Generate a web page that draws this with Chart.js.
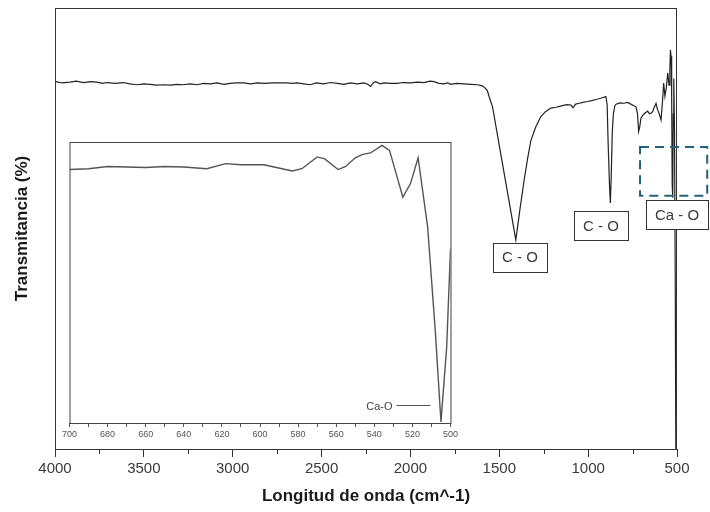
<!DOCTYPE html>
<html>
<head>
<meta charset="utf-8">
<script src="https://cdn.jsdelivr.net/npm/chart.js@4"></script>
<style>
  html, body { margin: 0; padding: 0; background: #fff; }
  #wrap { position: relative; width: 710px; height: 512px; }
  #mainChart { position: absolute; left: 0; top: 0; }
  #insetChart { position: absolute; left: 60px; top: 135px; }
</style>
</head>
<body>
<div id="wrap">
  <canvas id="mainChart" width="710" height="512"></canvas>
  <canvas id="insetChart" width="400" height="312"></canvas>
</div>
<script>
// espectro completo (cm^-1, % transmitancia)
const waveNumbers = [
  3995, 3960, 3915, 3880, 3840, 3800, 3765, 3730, 3709, 3660, 3615, 3580, 3540, 3500,
  3464, 3430, 3389, 3350, 3314, 3280, 3239, 3200, 3164, 3125, 3089, 3050, 3014, 2980,
  2939, 2900, 2860, 2820, 2780, 2740, 2700, 2660, 2638, 2600, 2563, 2530, 2488, 2450,
  2412, 2375, 2337, 2300, 2262, 2240, 2224, 2210, 2196, 2170, 2149, 2110, 2074, 2040,
  1999, 1960, 1924, 1890, 1868, 1840, 1811, 1790, 1773, 1740, 1698, 1660, 1623, 1600,
  1586, 1567, 1558, 1538, 1505, 1473, 1440, 1407, 1385, 1360, 1340, 1322, 1295, 1266,
  1240, 1210, 1180, 1150, 1120, 1097, 1085, 1070, 1050, 1030, 1003, 980, 950, 925,
  900, 893, 888, 880, 875, 870, 864, 858, 850, 843, 820, 800, 777, 760,
  731, 722, 716, 710, 703, 690, 680, 665, 655, 645, 637, 628, 618, 610,
  600, 590, 583, 575, 568, 560, 552, 545, 540, 537, 533, 530, 527, 524,
  521, 518, 514, 510, 505, 500
];
const transmittance = [
  83.3, 83.0, 83.2, 83.4, 83.1, 83.3, 83.2, 82.9, 83.1, 82.9, 83.1, 82.8, 82.6, 82.8,
  82.7, 82.5, 82.6, 82.5, 82.7, 82.6, 82.8, 82.6, 82.9, 82.8, 83.0, 82.7, 82.9, 83.0,
  83.0, 82.8, 83.0, 82.9, 83.0, 83.0, 83.0, 82.9, 83.0, 82.8, 82.6, 83.0, 82.8, 83.1,
  82.9, 82.7, 83.0, 82.8, 83.0, 82.7, 82.2, 83.0, 83.3, 82.8, 83.0, 82.9, 82.9, 83.1,
  83.0, 83.2, 83.1, 83.4, 83.3, 82.9, 82.8, 83.0, 82.7, 82.9, 82.8, 82.7, 82.6, 82.4,
  82.1, 81.3, 80.0, 77.6, 70.0, 62.6, 55.0, 47.4, 54.0, 61.0, 66.0, 70.0, 73.0, 75.4,
  76.5, 77.3, 77.5, 77.8, 78.1, 78.0, 77.4, 78.2, 78.4, 78.6, 78.8, 79.0, 79.3, 79.6,
  79.9, 78.0, 70.0, 60.0, 55.8, 62.0, 72.0, 76.0, 77.8, 78.2, 78.5, 78.4, 78.6, 78.2,
  77.6, 76.0, 72.0, 73.0, 75.0, 75.8, 76.2, 76.6, 76.0, 76.2, 76.5, 77.5, 78.4, 77.0,
  76.0, 74.6, 78.0, 83.0, 80.0, 82.0, 85.3, 82.5, 86.0, 90.5, 89.0, 80.0, 60.0, 57.0,
  76.0, 84.0, 72.0, 40.0, -20.0, 60.0
];

// detalle 700-500 cm^-1
const insetWaveNumbers = [
  700, 690, 680, 670, 660, 650, 640, 628, 618, 610, 598, 583, 578, 570, 566,
  559, 555, 550, 546, 542, 536, 532, 525, 521, 517, 512, 508, 505, 502, 500
];
const insetTransmittance = [
  90.2, 90.5, 91.3, 91.1, 90.9, 91.3, 91.1, 90.5, 92.3, 91.9, 91.9, 89.7, 90.5, 94.7, 94.0,
  90.2, 91.3, 94.4, 95.6, 96.1, 98.8, 97.0, 80.4, 85.2, 94.4, 69.8, 33.0, 0.4, 27.0, 62.0
];

const xTicks = [4000, 3500, 3000, 2500, 2000, 1500, 1000, 500];
const insetTicks = [700, 680, 660, 640, 620, 600, 580, 560, 540, 520, 500];
const bandLabels = ['C - O', 'C - O', 'Ca - O'];
const insetLabel = 'Ca-O';

const TEXT = '#3a3a3a';
const FONT = '"Liberation Sans", Arial, sans-serif';

// marco, ticks menores y etiquetas de bandas
const mainDecor = {
  id: 'mainDecor',
  afterDraw(chart) {
    const { ctx, chartArea: a, scales: { x, y } } = chart;
    ctx.save();
    ctx.strokeStyle = '#333';
    ctx.lineWidth = 1;
    ctx.strokeRect(a.left + 0.5, a.top + 0.5, a.right - a.left - 1, a.bottom - a.top);
    ctx.beginPath();
    for (let i = 0; i < xTicks.length - 1; i++) {
      const px = Math.round(x.getPixelForValue((xTicks[i] + xTicks[i + 1]) / 2)) + 0.5;
      ctx.moveTo(px, a.bottom);
      ctx.lineTo(px, a.bottom + 5);
    }
    ctx.stroke();

    // cajas de bandas (centro en unidades del eje)
    const anchors = [[1384, 43.5], [928, 50.6], [500, 53.1]];
    ctx.font = '15px ' + FONT;
    ctx.textAlign = 'center';
    ctx.textBaseline = 'middle';
    anchors.forEach(([wn, v], i) => {
      const cx = x.getPixelForValue(wn), cy = y.getPixelForValue(v);
      const w = ctx.measureText(bandLabels[i]).width + 18, h = 29;
      ctx.fillStyle = '#fff';
      ctx.fillRect(cx - w / 2, cy - h / 2, w, h);
      ctx.strokeStyle = '#333';
      ctx.lineWidth = 1;
      ctx.strokeRect(Math.round(cx - w / 2) + 0.5, Math.round(cy - h / 2) + 0.5, Math.round(w), h);
      ctx.fillStyle = TEXT;
      ctx.fillText(bandLabels[i], cx, cy + 1);
    });

    // recuadro punteado de la zona Ca-O
    const x0 = x.getPixelForValue(708), x1 = x.getPixelForValue(330);
    const y0 = y.getPixelForValue(68.5), y1 = y.getPixelForValue(57.4);
    ctx.setLineDash([9, 6]);
    ctx.strokeStyle = '#23607e';
    ctx.lineWidth = 2;
    ctx.strokeRect(x0, y0, x1 - x0, y1 - y0);
    ctx.restore();
  }
};

new Chart(document.getElementById('mainChart'), {
  type: 'line',
  data: {
    datasets: [{
      data: waveNumbers.map((wn, i) => ({ x: wn, y: transmittance[i] })),
      borderColor: '#222',
      borderWidth: 1.2,
      pointRadius: 0,
      tension: 0
    }]
  },
  options: {
    responsive: false,
    animation: false,
    layout: { padding: { top: 8, right: 33, left: 0, bottom: 0 } },
    plugins: { legend: { display: false }, tooltip: { enabled: false } },
    scales: {
      x: {
        type: 'linear',
        min: 500, max: 4000, reverse: true,
        afterBuildTicks: s => { s.ticks = xTicks.map(v => ({ value: v })); },
        afterFit: s => { s.height = 63; },
        grid: { drawOnChartArea: false, tickLength: 8, color: '#333' },
        border: { color: '#333' },
        ticks: {
          color: TEXT, padding: 3, font: { size: 15, family: FONT },
          callback: v => String(v)
        },
        title: {
          display: true, text: 'Longitud de onda (cm^-1)', color: '#1a1a1a',
          font: { size: 17, weight: 'bold', family: FONT },
          padding: { top: 0, bottom: 5 }
        }
      },
      y: {
        min: 0, max: 100,
        afterFit: s => { s.width = 55; },
        grid: { display: false },
        border: { display: false },
        ticks: { display: false },
        title: {
          display: true, text: 'Transmitancia (%)', color: '#1a1a1a',
          font: { size: 17, weight: 'bold', family: FONT },
          padding: { top: 12, bottom: 0 }
        }
      }
    }
  },
  plugins: [mainDecor]
});

// recuadro con el detalle
const insetDecor = {
  id: 'insetDecor',
  beforeDraw(chart) {
    const { ctx, width, height } = chart;
    ctx.save();
    ctx.fillStyle = '#fff';
    ctx.fillRect(0, 0, width, height);
    ctx.restore();
  },
  afterDraw(chart) {
    const { ctx, chartArea: a } = chart;
    ctx.save();
    ctx.strokeStyle = '#444';
    ctx.lineWidth = 1;
    ctx.strokeRect(a.left + 0.5, a.top + 0.5, a.right - a.left, a.bottom - a.top);
    const ly = Math.round(a.bottom - 18) + 0.5;
    ctx.font = '11px ' + FONT;
    ctx.fillStyle = '#444';
    ctx.textAlign = 'right';
    ctx.textBaseline = 'middle';
    ctx.fillText(insetLabel, a.right - 58, ly + 1);
    ctx.strokeStyle = '#555';
    ctx.beginPath();
    ctx.moveTo(a.right - 54, ly);
    ctx.lineTo(a.right - 20, ly);
    ctx.stroke();
    ctx.restore();
  }
};

new Chart(document.getElementById('insetChart'), {
  type: 'line',
  data: {
    datasets: [{
      label: insetLabel,
      data: insetWaveNumbers.map((wn, i) => ({ x: wn, y: insetTransmittance[i] })),
      borderColor: '#555',
      borderWidth: 1.4,
      pointRadius: 0,
      tension: 0
    }]
  },
  options: {
    responsive: false,
    animation: false,
    layout: { padding: { top: 7, right: 8, left: 9, bottom: 0 } },
    plugins: { legend: { display: false }, tooltip: { enabled: false } },
    scales: {
      x: {
        type: 'linear',
        min: 500, max: 700, reverse: true,
        afterBuildTicks: s => {
          const t = [];
          for (let v = 700; v >= 500; v -= 10) t.push({ value: v });
          s.ticks = t;
        },
        afterFit: s => { s.height = 24; },
        grid: { drawOnChartArea: false, tickLength: 4, color: '#555' },
        border: { color: '#444' },
        ticks: {
          autoSkip: false, maxRotation: 0, color: '#555', padding: 2,
          font: { size: 9, family: FONT },
          callback: v => insetTicks.includes(v) ? String(v) : ''
        }
      },
      y: { display: false, min: 0, max: 100 }
    }
  },
  plugins: [insetDecor]
});
</script>
</body>
</html>
